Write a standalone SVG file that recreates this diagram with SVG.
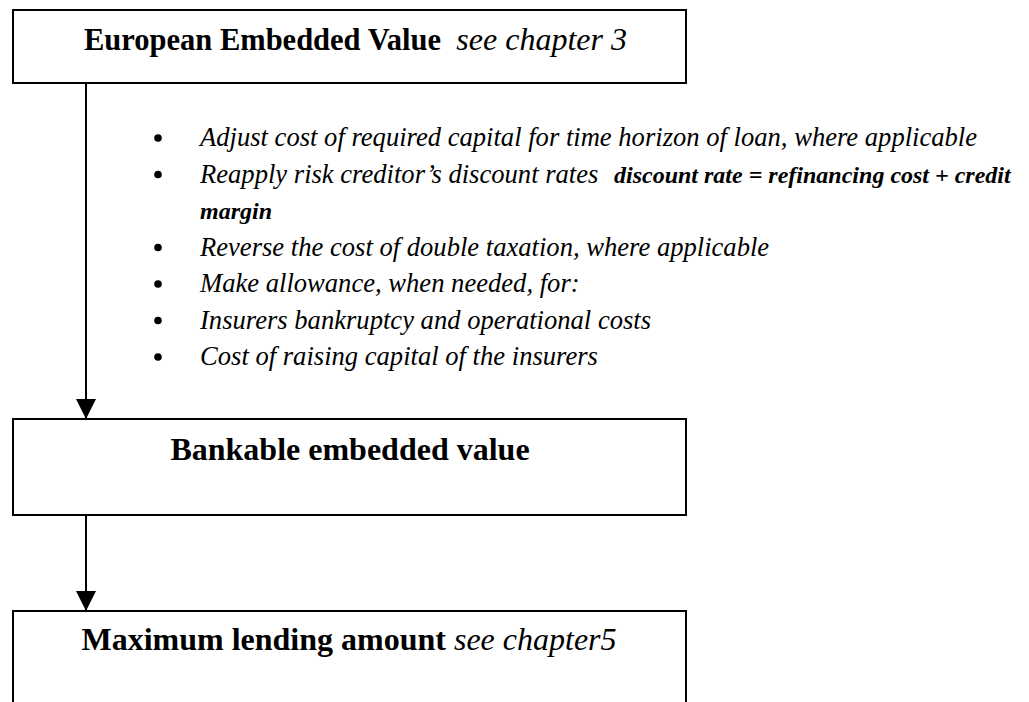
<svg xmlns="http://www.w3.org/2000/svg" width="1029" height="702" viewBox="0 0 1029 702">
<defs>
<style>
.box{fill:#fff;stroke:#000;stroke-width:2}
.t{font-family:"Liberation Serif","Times New Roman",serif;fill:#000}
.b{font-weight:bold}
.i{font-style:italic}
.edge{stroke:#000;stroke-width:2;fill:none}
.dot{fill:#000}
</style>
<marker id="arr" markerUnits="userSpaceOnUse" markerWidth="20" markerHeight="20" refX="20" refY="10" orient="auto" viewBox="0 0 20 20">
<path d="M0,0 L20,10 L0,20 Z" fill="#000"/>
</marker>
</defs>
<rect width="1029" height="702" fill="#fff"/>
<g id="connectors">
<line class="edge" x1="86" y1="83" x2="86" y2="419" marker-end="url(#arr)"/>
<line class="edge" x1="86" y1="515" x2="86" y2="611" marker-end="url(#arr)"/>
</g>
<g id="node-eev">
<rect class="box" x="13" y="10" width="673" height="73"/>
<text class="t" x="84" y="50" font-size="30.5" xml:space="preserve"><tspan class="b">European Embedded Value</tspan>  <tspan class="i" font-size="32">see chapter 3</tspan></text>
</g>
<g id="adjustments" class="t i" font-size="26.6">
<circle class="dot" cx="158" cy="138" r="3.8"/>
<circle class="dot" cx="158" cy="174.5" r="3.8"/>
<circle class="dot" cx="158" cy="247.5" r="3.8"/>
<circle class="dot" cx="158" cy="284" r="3.8"/>
<circle class="dot" cx="158" cy="320.5" r="3.8"/>
<circle class="dot" cx="158" cy="357" r="3.8"/>
<text x="200" y="146">Adjust cost of required capital for time horizon of loan, where applicable</text>
<text x="200" y="182.5">Reapply risk creditor’s discount rates</text>
<text x="614" y="182.5" class="b" font-size="24">discount rate = refinancing cost + credit</text>
<text x="200" y="219" class="b" font-size="24">margin</text>
<text x="200" y="255.5">Reverse the cost of double taxation, where applicable</text>
<text x="200" y="292">Make allowance, when needed, for:</text>
<text x="200" y="328.5">Insurers bankruptcy and operational costs</text>
<text x="200" y="365">Cost of raising capital of the insurers</text>
</g>
<g id="node-bev">
<rect class="box" x="13" y="419" width="673" height="96"/>
<text class="t b" x="350" y="460" font-size="32" text-anchor="middle">Bankable embedded value</text>
</g>
<g id="node-mla">
<rect class="box" x="13" y="611" width="673" height="110"/>
<text class="t" x="349" y="650" font-size="32" text-anchor="middle"><tspan class="b">Maximum lending amount</tspan> <tspan class="i">see chapter5</tspan></text>
</g>
</svg>
